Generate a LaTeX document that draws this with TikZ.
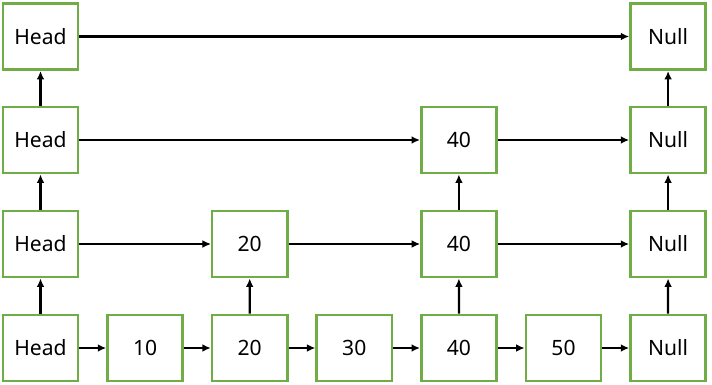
\documentclass[tikz,border=0pt]{standalone}
\usepackage{fontspec}
\setmainfont{Noto Sans}
\usetikzlibrary{arrows.meta}
\definecolor{boxgreen}{RGB}{112,173,71}
\tikzset{
  box/.style={draw=boxgreen, line width=1.8pt, minimum width=1.88cm, minimum height=1.66cm,
    inner sep=0pt, font=\fontsize{15}{18}\selectfont},
  link/.style={->, line width=1.6pt},
  thinlink/.style={->, line width=0.8pt}
}
\begin{document}
\begin{tikzpicture}[x=0.025cm, y=-0.025cm, >={Latex[length=6pt,width=5.5pt]}]
  \useasboundingbox (0,0) rectangle (712,384);
  % bottom list
  \foreach \lbl [count=\i from 0] in {Head,10,20,30,40,50,Null}{
    \node[box] (a\i) at (40.5+104.6*\i,348) {\lbl};
  }
  \foreach \i [remember=\i as \j (initially 0)] in {1,...,6}{
    \draw[link] (a\j) -- (a\i);
  }
  % level 1
  \node[box] (b0) at (40.5,244) {Head};
  \node[box] (b2) at (249.7,244) {20};
  \node[box] (b4) at (458.9,244) {40};
  \node[box] (b6) at (668.1,244) {Null};
  \draw[thinlink] (b0) -- (b2);
  \draw[thinlink] (b2) -- (b4);
  \draw[link] (b4) -- (b6);
  % level 2
  \node[box] (c0) at (40.5,140) {Head};
  \node[box] (c4) at (458.9,140) {40};
  \node[box] (c6) at (668.1,140) {Null};
  \draw[link] (c0) -- (c4);
  \draw[link] (c4) -- (c6);
  % level 3
  \node[box] (d0) at (40.5,36.5) {Head};
  \node[box] (d6) at (668.1,36.5) {Null};
  \draw[link] (d0) -- (d6);
  % express lanes
  \foreach \k in {0,2,4,6}{
    \draw[link] (a\k) -- (b\k);
  }
  \foreach \k in {0,4,6}{
    \draw[link] (b\k) -- (c\k);
  }
  \foreach \k in {0,6}{
    \draw[link] (c\k) -- (d\k);
  }
\end{tikzpicture}
\end{document}
